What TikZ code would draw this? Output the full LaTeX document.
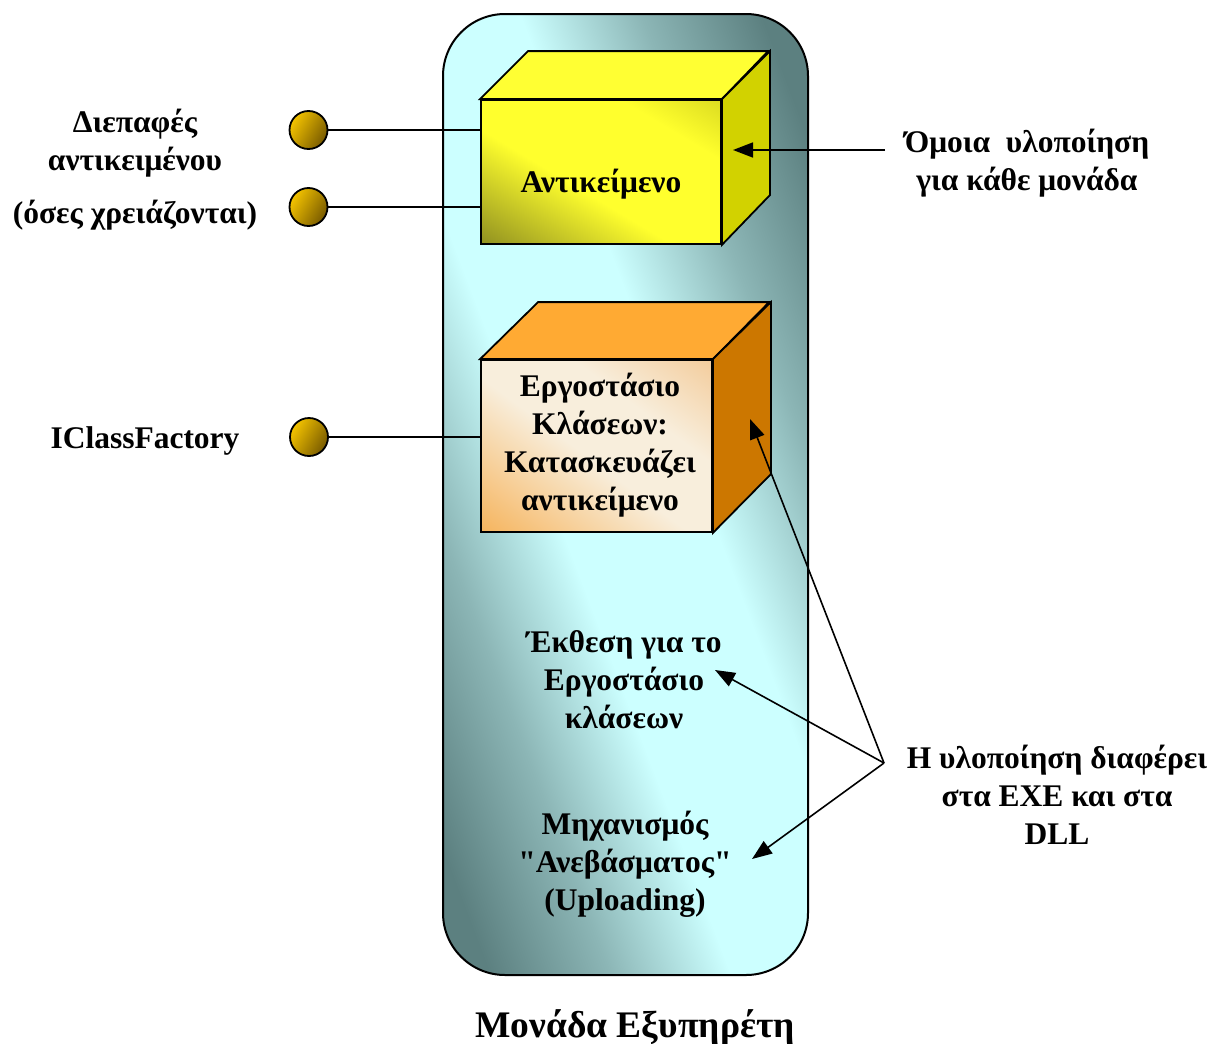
\documentclass[tikz,border=0pt]{standalone}
\usepackage{fontspec}
\newfontfamily\mainface{Liberation Serif}
\usetikzlibrary{arrows.meta}

% palette
\definecolor{unitdark}{RGB}{92,128,128}
\definecolor{unitmid}{RGB}{140,182,182}
\definecolor{unitlight}{RGB}{204,255,255}
\definecolor{objtop}{RGB}{255,255,51}
\definecolor{objside}{RGB}{210,210,0}
\definecolor{objdark}{RGB}{105,105,28}
\definecolor{objmid}{RGB}{255,255,45}
\definecolor{objtr}{RGB}{195,195,25}
\definecolor{facttop}{RGB}{255,170,51}
\definecolor{factside}{RGB}{204,119,0}
\definecolor{factedge}{RGB}{245,158,45}
\definecolor{factedgelt}{RGB}{240,185,120}
\definecolor{factmid}{RGB}{248,238,220}
\definecolor{knoblight}{RGB}{245,196,0}
\definecolor{knobdark}{RGB}{120,90,0}

% diagonal gradients running across each shape's top-left/bottom-right diagonal
\pgfdeclarehorizontalshading{unitshade}{100bp}{color(0bp)=(unitdark); color(21.8bp)=(unitdark);
  color(32.5bp)=(unitmid); color(43.2bp)=(unitlight); color(56.8bp)=(unitlight);
  color(67.5bp)=(unitmid); color(78.2bp)=(unitdark); color(100bp)=(unitdark)}
\pgfdeclarehorizontalshading{objshade}{100bp}{color(0bp)=(objdark); color(6bp)=(objdark);
  color(43bp)=(objmid); color(70bp)=(objmid); color(94bp)=(objtr); color(100bp)=(objtr)}
\pgfdeclarehorizontalshading{factshade}{100bp}{color(0bp)=(factedge); color(3bp)=(factedge);
  color(46.5bp)=(factmid); color(64bp)=(factmid); color(97bp)=(factedgelt); color(100bp)=(factedgelt)}

\begin{document}
\begin{tikzpicture}[x=1pt,y=-1pt,
  txt/.style={font=\mainface\fontsize{31.5}{38}\selectfont\bfseries, align=center, inner sep=0pt},
  edge/.style={draw=black, line width=1.8pt, line join=miter},
  wire/.style={line width=1.8pt},
  ptr/.style={line width=1.6pt, -{Triangle[length=20pt,width=15pt]}},
  knob/.style={circle, minimum size=38pt, inner sep=0pt, draw, line width=1.8pt,
    top color=knoblight, bottom color=knobdark, shading angle=60},
  face/.style={edge, rectangle, inner sep=0pt}
]
\useasboundingbox (0,0) rectangle (1210,1044);

% server unit body
\path[edge, line width=2pt, rounded corners=62pt, shade, shading=unitshade, shading angle=20.8]
  (443,14) rectangle (808,975);

% object cube
\node[face, minimum width=240pt, minimum height=144pt, shade, shading=objshade, shading angle=59]
  (obj) at (601,172) {};
\path[edge, fill=objtop] (obj.north west) -- ++(48,-48) -- ++(240,0) -- (obj.north east) -- cycle;
\path[edge, fill=objside] (obj.north east) -- ++(48,-48) -- ++(0,144) -- (obj.south east) -- cycle;
\node[txt] (objtxt) at ([yshift=-12pt]obj.center) {Αντικείμενο};

% class factory cube
\node[face, minimum width=231pt, minimum height=172pt, shade, shading=factshade, shading angle=53.3]
  (fac) at (596.5,446) {};
\path[edge, fill=facttop] (fac.north west) -- ++(58,-57) -- ++(231,0) -- (fac.north east) -- cycle;
\path[edge, fill=factside] (fac.north east) -- ++(58,-57) -- ++(0,172) -- (fac.south east) -- cycle;
\node[txt] (factxt) at (600,445) {Εργοστάσιο\\Κλάσεων:\\Κατασκευάζει\\αντικείμενο};

% interfaces
\node[knob] (if1) at (308.5,130) {};
\node[knob] (if2) at (308.5,207) {};
\node[knob] (if3) at (309,437) {};
\draw[wire] (if1.east) -- (if1 -| obj.west);
\draw[wire] (if2.east) -- (if2 -| obj.west);
\draw[wire] (if3.east) -- (if3 -| fac.west);

\node[txt] (iftxt) at (135,170) {Διεπαφές\\αντικειμένου\\[15pt](όσες χρειάζονται)};
\node[txt] (cftxt) at (145,441) {IClassFactory};

% notes on the right
\node[txt] (same) at (1027,163) {Όμοια~ υλοποίηση\\για κάθε μονάδα};
\coordinate (samefoot) at (885,150);
\coordinate (objpt) at (733,150);
\draw[ptr] (samefoot) -- (objpt);

\node[txt] (diff) at (1057,795) {Η υλοποίηση διαφέρει\\στα EXE και στα\\DLL};
\coordinate (hub) at (884,763);
\coordinate (facpt) at (750,419);
\coordinate (exppt) at (715,670);
\coordinate (uppt) at (752,859);
\draw[ptr] (hub) -- (facpt);
\draw[ptr] (hub) -- (exppt);
\draw[ptr] (hub) -- (uppt);

% texts inside the unit
\node[txt] (expose) at (624,680) {Έκθεση για το\\Εργοστάσιο\\κλάσεων};
\node[txt] (upload) at (625,864) {Μηχανισμός\\"Ανεβάσματος"\\(Uploading)};

% caption
\node[txt, font=\mainface\fontsize{37.5}{44}\selectfont\bfseries] (caption) at (635,1028) {Μονάδα Εξυπηρέτη};
\end{tikzpicture}
\end{document}
